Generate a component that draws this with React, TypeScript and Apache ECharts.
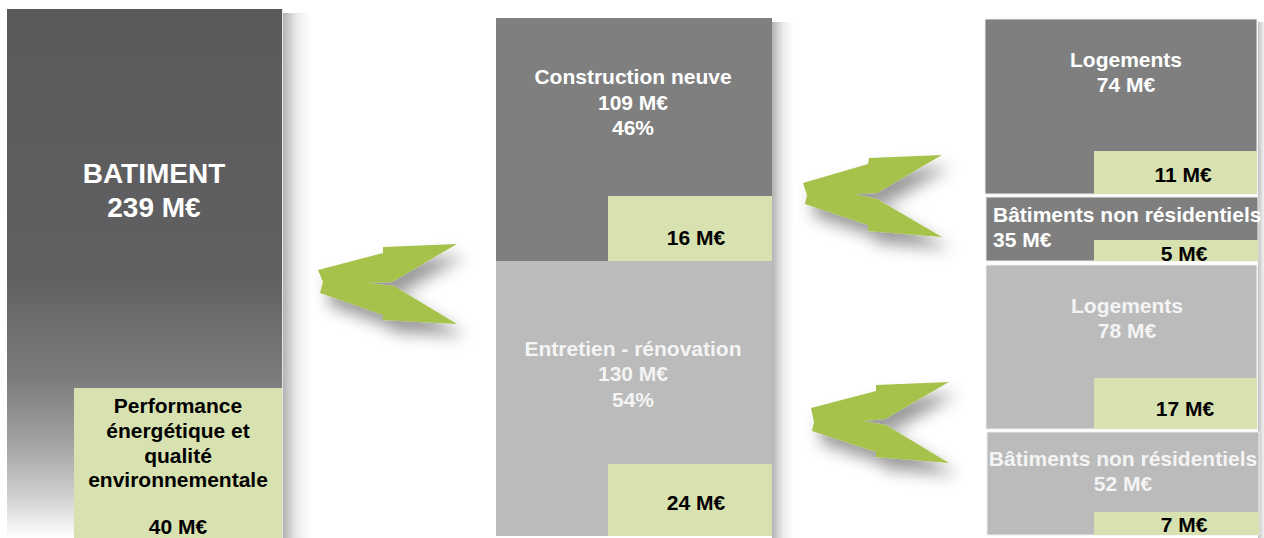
import React, { useEffect, useRef } from "react";
import * as echarts from "echarts";

// ---------- data ----------
const totalTitle = "BATIMENT";
const totalValue = 239;
const perfLabelLines = ["Performance", "énergétique et", "qualité", "environnementale"];
const perfTotal = 40;

const segmentNames = ["Construction neuve", "Entretien - rénovation"];
const segmentValues = [109, 130];
const segmentShares = [46, 54];
const segmentPerf = [16, 24];

const subNames = ["Logements", "Bâtiments non résidentiels", "Logements", "Bâtiments non résidentiels"];
const subValues = [74, 35, 78, 52];
const subPerf = [11, 5, 17, 7];

// ---------- layout (positions / styles only) ----------
const FONT = '"Liberation Sans", Arial, sans-serif';
const FS = 21;
const GREEN = "#d8e2b0";
const ARROW = "#a6c24c";
const DARK = "#7f7f7f";
const LIGHT = "#bbbbbb";

const leftBox = { x: 7, y: 9, w: 275, h: 529 };
const leftPerfBox = { x: 74, y: 388, w: 208, h: 150 };
const perfLineY = [405, 430, 455, 479.5];
const perfValueY = 526.5;
const midBoxes = [
  { x: 496, y: 18, w: 276, h: 243, fill: DARK, tx: 633, ty: [76.5, 102, 127.5], px: 608, py: 196, ph: 65, lx: 696, ly: 237 },
  { x: 496, y: 261, w: 276, h: 275, fill: LIGHT, tx: 633, ty: [348.5, 373, 399], px: 608, py: 464, ph: 72, lx: 696, ly: 502 },
];
const subBoxes = [
  { x: 985, y: 19, w: 272, h: 175, fill: DARK, tx: 1126, ty: [59, 84], left: false, py: 151, ph: 43, lx: 1183, ly: 174 },
  { x: 986, y: 197, w: 272, h: 64, fill: DARK, tx: 993, ty: [214, 239], left: true, py: 240, ph: 21, lx: 1184, ly: 253 },
  { x: 986, y: 265, w: 271, h: 164, fill: LIGHT, tx: 1127, ty: [305, 330], left: false, py: 378, ph: 51, lx: 1185, ly: 408 },
  { x: 987, y: 432, w: 272, h: 103, fill: LIGHT, tx: 1123, ty: [458, 483], left: false, py: 512, ph: 23, lx: 1184, ly: 524 },
];
const arrows = [
  [[318, 270], [383, 253], [383, 247], [457, 244], [392, 282], [368, 283], [394, 286], [457, 324], [383, 320], [383, 315], [320, 293], [323, 282]],
  [[803, 183], [868, 164], [869, 158], [942, 155], [877, 193], [854, 194], [877, 199], [942, 237], [868, 231], [868, 225], [805, 204], [807, 195]],
  [[811, 408], [876, 391], [876, 385], [949, 382], [885, 419], [862, 421], [886, 425], [949, 463], [876, 457], [876, 452], [812, 431], [814, 422]],
];

function txt(text: string, x: number, y: number, size: number, fill: string, align = "center") {
  return {
    type: "text",
    x,
    y,
    z: 10,
    style: {
      text,
      fill,
      font: `bold ${size}px ${FONT}`,
      textAlign: align,
      textVerticalAlign: "middle",
      align,
      verticalAlign: "middle",
    },
  };
}

function shadowRect(x: number, y: number, w: number, h: number, c0: string) {
  return {
    type: "rect",
    shape: { x, y, width: w, height: h },
    z: 1,
    style: {
      fill: new echarts.graphic.LinearGradient(0, 0, 1, 0, [
        { offset: 0, color: c0 },
        { offset: 0.5, color: "rgba(0,0,0,0.08)" },
        { offset: 1, color: "rgba(0,0,0,0)" },
      ]),
    },
  };
}

export default function App() {
  const ref = useRef<HTMLDivElement>(null);
  useEffect(() => {
    if (!ref.current) return;
    const chart = echarts.init(ref.current, null, { renderer: "svg" });
    const els: any[] = [];

    // shadows
    els.push(shadowRect(leftBox.x + leftBox.w + 1, leftBox.y + 4, 28, leftBox.h, "rgba(0,0,0,0.3)"));
    els.push(shadowRect(772, 22, 22, 516, "rgba(0,0,0,0.3)"));
    els.push(shadowRect(1258, 22, 10, 516, "rgba(0,0,0,0.25)"));

    // left total box
    els.push({
      type: "rect",
      shape: { x: leftBox.x, y: leftBox.y, width: leftBox.w, height: leftBox.h },
      z: 2,
      style: {
        fill: new echarts.graphic.LinearGradient(0, 0, 0, 1, [
          { offset: 0, color: "#5a5a5c" },
          { offset: 0.5, color: "#606062" },
          { offset: 0.7, color: "#7c7c7d" },
          { offset: 0.82, color: "#a2a2a3" },
          { offset: 0.92, color: "#cfcfcf" },
          { offset: 1, color: "#ffffff" },
        ]),
      },
    });
    els.push({
      type: "line",
      shape: { x1: leftBox.x + leftBox.w + 0.5, y1: leftBox.y, x2: leftBox.x + leftBox.w + 0.5, y2: 538 },
      z: 3,
      style: { stroke: "#e4e4e4", lineWidth: 1 },
    });
    els.push({
      type: "rect",
      shape: { x: leftPerfBox.x, y: leftPerfBox.y, width: leftPerfBox.w, height: leftPerfBox.h },
      z: 4,
      style: { fill: GREEN },
    });
    els.push(txt(totalTitle, 154, 173, 28, "#ffffff"));
    els.push(txt(`${totalValue} M€`, 154, 207, 28, "#ffffff"));
    perfLabelLines.forEach((l, i) => {
      els.push(txt(l, 178, perfLineY[i], FS, "#000000"));
    });
    els.push(txt(`${perfTotal} M€`, 178, perfValueY, FS, "#000000"));

    // middle segments
    midBoxes.forEach((b, i) => {
      els.push({
        type: "rect",
        shape: { x: b.x, y: b.y, width: b.w, height: b.h },
        z: 2,
        style: { fill: b.fill },
      });
      els.push({
        type: "rect",
        shape: { x: b.px, y: b.py, width: b.x + b.w - b.px, height: b.ph },
        z: 3,
        style: { fill: GREEN },
      });
      const textFill = i === 0 ? "#ffffff" : "#f4f4f4";
      els.push(txt(segmentNames[i], b.tx, b.ty[0], FS, textFill));
      els.push(txt(`${segmentValues[i]} M€`, b.tx, b.ty[1], FS, textFill));
      els.push(txt(`${segmentShares[i]}%`, b.tx, b.ty[2], FS, textFill));
      els.push(txt(`${segmentPerf[i]} M€`, b.lx, b.ly, FS, "#000000"));
    });

    // right sub-segments
    subBoxes.forEach((b, i) => {
      els.push({
        type: "rect",
        shape: { x: b.x, y: b.y, width: b.w, height: b.h },
        z: 2,
        style: { fill: b.fill, stroke: "#eeeeee", lineWidth: 1 },
      });
      els.push({
        type: "rect",
        shape: { x: 1094, y: b.py, width: b.x + b.w - 1094, height: b.ph },
        z: 3,
        style: { fill: GREEN },
      });
      const textFill = i < 2 ? "#ffffff" : "#f4f4f4";
      const align = b.left ? "left" : "center";
      els.push(txt(subNames[i], b.tx, b.ty[0], FS, textFill, align));
      els.push(txt(`${subValues[i]} M€`, b.tx, b.ty[1], FS, textFill, align));
      els.push(txt(`${subPerf[i]} M€`, b.lx, b.ly, FS, "#000000"));
    });

    // arrows
    arrows.forEach((pts) => {
      els.push({
        type: "polygon",
        shape: { points: pts },
        z: 5,
        style: {
          fill: ARROW,
          shadowBlur: 16,
          shadowOffsetX: 8,
          shadowOffsetY: 12,
          shadowColor: "rgba(0,0,0,0.4)",
        },
      });
    });

    chart.setOption({
      animation: false,
      backgroundColor: "#ffffff",
      graphic: { elements: els },
    });
    return () => chart.dispose();
  }, []);
  return (
    <div
      ref={ref}
      style={{ position: "fixed", left: 0, top: 0, width: 1264, height: 538 }}
    />
  );
}
